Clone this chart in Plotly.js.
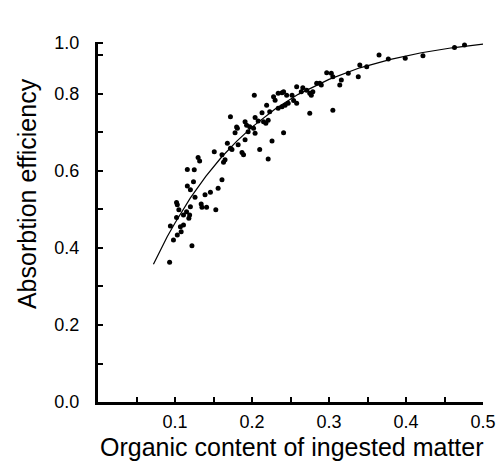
<!DOCTYPE html>
<html>
<head>
<meta charset="utf-8">
<script src="https://cdn.plot.ly/plotly-3.0.1.min.js"></script>
<style>html,body{margin:0;padding:0;background:#fff;}#chart{width:500px;height:463px;}</style>
</head>
<body>
<div id="chart"></div>
<script>
// Observed points: organic content (x) vs absorption efficiency (y)
const organicContent = [
  0.093,0.122,0.098,0.103,0.108,0.102,0.103,0.105,0.111,0.115,
  0.118,0.119,0.120,0.126,0.134,0.135,0.141,0.153,0.146,0.156,
  0.161,0.116,0.120,0.124,0.116,0.125,0.130,0.132,0.151,0.161,
  0.165,0.163,0.168,0.172,0.174,0.182,0.187,0.189,0.172,0.181,
  0.191,0.193,0.197,0.195,0.202,0.204,0.204,0.210,0.221,0.226,
  0.241,0.215,0.218,0.221,0.219,0.223,0.234,0.239,0.228,0.234,
  0.239,0.203,0.243,0.247,0.254,0.258,0.258,0.271,0.275,0.277,
  0.288,0.275,0.305,0.314,0.241,0.245,0.264,0.279,0.284,0.290,
  0.297,0.303,0.305,0.316,0.325,0.338,0.340,0.349,0.365,0.377,
  0.399,0.422,0.463,0.476,0.094,0.107,0.102,0.180,0.208,0.230,
  0.252,0.266,0.213,0.191,0.178,0.139,0.111
];
const absorptionEff = [
  0.363,0.406,0.421,0.434,0.442,0.479,0.512,0.499,0.486,0.494,
  0.477,0.486,0.507,0.532,0.514,0.506,0.506,0.499,0.545,0.555,
  0.577,0.561,0.551,0.572,0.604,0.603,0.635,0.626,0.650,0.642,
  0.629,0.623,0.672,0.659,0.656,0.668,0.648,0.642,0.741,0.711,
  0.728,0.719,0.715,0.702,0.711,0.698,0.739,0.656,0.631,0.678,
  0.699,0.728,0.724,0.732,0.771,0.754,0.763,0.767,0.793,0.802,
  0.803,0.797,0.771,0.776,0.783,0.776,0.819,0.810,0.802,0.797,
  0.828,0.750,0.758,0.823,0.806,0.797,0.806,0.806,0.828,0.823,
  0.855,0.854,0.845,0.836,0.854,0.845,0.875,0.871,0.901,0.891,
  0.893,0.899,0.921,0.927,0.457,0.455,0.518,0.714,0.730,0.784,
  0.797,0.816,0.751,0.681,0.699,0.538,0.460
];
// Fitted curve
const curveX = [0.072,0.09,0.10,0.12,0.14,0.16,0.18,0.20,0.23,0.26,0.30,0.34,0.38,0.42,0.46,0.51];
const curveY = [0.358,0.430,0.465,0.530,0.586,0.635,0.677,0.714,0.761,0.799,0.838,0.868,0.890,0.907,0.920,0.932];
// Tick labels
const xTickVals = [0.1,0.2,0.3,0.4,0.5];
const xTickText = ['0.1','0.2','0.3','0.4','0.5'];
const yTickVals = [0,0.2,0.4,0.6,0.8,0.932];
const yTickText = ['0.0','0.2','0.4','0.6','0.8','1.0'];
const xTitle = 'Organic content of ingested matter';
const yTitle = 'Absorbtion efficiency';

const FONT = 'Liberation Sans, Arial, Helvetica, sans-serif';

const traces = [
  {x: curveX, y: curveY, mode: 'lines', type: 'scatter',
   line: {color: '#000', width: 1.2}, hoverinfo: 'skip'},
  {x: organicContent, y: absorptionEff, mode: 'markers', type: 'scatter',
   marker: {color: '#000', size: 5}, cliponaxis: false}
];

const layout = {
  width: 500, height: 463,
  margin: {l: 98, r: 17, t: 42, b: 61},
  paper_bgcolor: '#fff', plot_bgcolor: '#fff',
  showlegend: false,
  font: {family: FONT, color: '#000', size: 18},
  xaxis: {
    range: [0, 0.5], showgrid: false, zeroline: false,
    showline: true, linecolor: '#000', linewidth: 3,
    ticks: 'inside', ticklen: 5, tickwidth: 2, tickcolor: '#000',
    tickvals: xTickVals, ticktext: xTickText,
    tickfont: {family: FONT, size: 18, color: '#000'},
    ticklabelstandoff: 1,
    minor: {dtick: 0.05, tick0: 0, ticks: 'inside', ticklen: 5, tickwidth: 2, tickcolor: '#000', showgrid: false}
  },
  yaxis: {
    range: [0, 0.935], showgrid: false, zeroline: false,
    showline: true, linecolor: '#000', linewidth: 3,
    ticks: 'inside', ticklen: 5, tickwidth: 2, tickcolor: '#000',
    tickvals: yTickVals, ticktext: yTickText,
    tickfont: {family: FONT, size: 18, color: '#000'},
    ticklabelstandoff: 12,
    minor: {dtick: 0.1, tick0: 0, ticks: 'inside', ticklen: 5, tickwidth: 2, tickcolor: '#000', showgrid: false}
  },
  annotations: [
    {text: xTitle, xref: 'paper', yref: 'paper', x: 0.504, y: -0.125,
     xanchor: 'center', yanchor: 'middle', showarrow: false,
     font: {family: FONT, size: 25, color: '#000'}},
    {text: yTitle, xref: 'paper', yref: 'paper', x: -0.184, y: 0.578,
     xanchor: 'center', yanchor: 'middle', showarrow: false, textangle: -90,
     font: {family: FONT, size: 25, color: '#000'}}
  ]
};

Plotly.newPlot('chart', traces, layout, {staticPlot: true, displayModeBar: false});
</script>
</body>
</html>
